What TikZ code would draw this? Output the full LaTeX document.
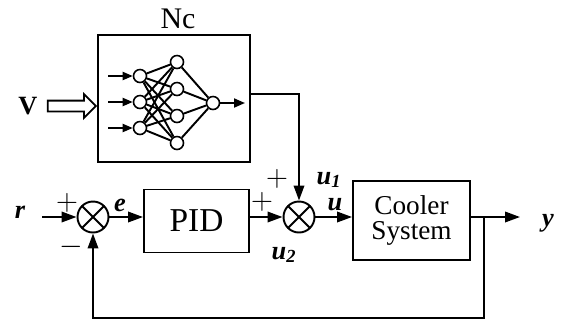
\documentclass[tikz,border=0pt]{standalone}
\usepackage{fontspec}
\setmainfont{Liberation Serif}
\usetikzlibrary{calc,arrows.meta,shapes.arrows}

\tikzset{
  bloque/.style={draw,line width=1.1pt,inner sep=0pt},
  suma/.style={circle,draw,minimum size=6.2mm,inner sep=0pt,
    path picture={\draw (path picture bounding box.north west)--(path picture bounding box.south east)
      (path picture bounding box.south west)--(path picture bounding box.north east);}},
  neurona/.style={circle,draw,fill=white,minimum size=2.6mm,inner sep=0pt,line width=0.9pt},
  senal/.style={font=\fontsize{15}{15}\selectfont\itshape\bfseries,inner sep=1pt},
  signo/.style={font=\fontsize{16}{16}\selectfont},
  hueca/.style={single arrow,draw,line width=1pt,inner sep=0.9mm,minimum height=0.96cm,
    single arrow head extend=1.3mm,single arrow head indent=0pt}
}

\begin{document}
\begin{tikzpicture}[line width=1.1pt,>={Triangle[length=3mm,width=2.1mm]}]
  \useasboundingbox (0,0) rectangle (11.26,-6.4);
  % red neuronal
  \node[bloque,minimum width=3.04cm,minimum height=2.54cm] (nc) at (3.48,-1.97) {};
  \node[font=\fontsize{17}{17}\selectfont] (nclab) at (3.56,-0.38) {Nc};
  \foreach \i/\y in {1/-1.52,2/-2.04,3/-2.56}{
    \node[neurona] (x\i) at (2.8,\y) {};
    \coordinate (in\i) at (2.16,\y);
    \draw[-{Triangle[length=2mm,width=1.6mm]}] (in\i) -- (x\i);
  }
  \foreach \j/\y in {1/-1.24,2/-1.78,3/-2.32,4/-2.86}
    \node[neurona] (h\j) at (3.54,\y) {};
  \node[neurona] (o) at (4.26,-2.06) {};
  \foreach \i in {1,2,3}
    \foreach \j in {1,...,4}
      \draw (x\i) -- (h\j);
  \foreach \j in {1,...,4}
    \draw (h\j) -- (o);
  \coordinate (nnout) at (4.9,-2.06);
  \draw[-{Triangle[length=2.2mm,width=1.8mm]}] (o) -- (nnout);
  % entrada V
  \node[font=\fontsize{15}{15}\selectfont\bfseries] (v) at (0.56,-2.12) {V};
  \node[hueca,anchor=tip] (varrow) at (v -| nc.west) {};
  % lazo PID
  \node[senal] (r) at (0.4,-4.24) {r};
  \coordinate (rin) at (0.84,-4.34);
  \node[suma] (sum1) at (1.86,-4.34) {};
  \node[bloque,minimum width=2.1cm,minimum height=1.26cm,font=\fontsize{19}{19}\selectfont] (pid) at (3.93,-4.42) {PID};
  \node[suma] (sum2) at (5.98,-4.34) {};
  \node[bloque,minimum width=2.34cm,minimum height=1.58cm,align=center,font=\fontsize{15.5}{14.5}\selectfont] (cooler) at (8.23,-4.41) {Cooler\\System};
  \coordinate (yout) at (10.4,-4.34);
  \coordinate (fb) at (9.68,-4.34);
  \coordinate (fbb) at (9.68,-6.36);
  \draw[->] (rin) -- (sum1);
  \draw[->] (sum1) -- (sum1 -| pid.west);
  \draw[->] (pid.east |- sum2) -- (sum2);
  \draw[->] (sum2) -- (sum2 -| cooler.west);
  \draw[->] (cooler.east |- sum2) -- (yout);
  \draw[->] (fb) -- (fbb) -| (sum1);
  \draw[->] ([yshift=0.09cm]nc.east) -| (sum2);
  % etiquetas
  \node[senal] (ylab) at (10.96,-4.46) {y};
  \node[senal] (elab) at (2.4,-4.1) {e};
  \node[senal] (ulab) at (6.7,-4.1) {u};
  \node[senal] (u1lab) at (6.58,-3.6) {u\textsubscript{1}};
  \node[senal] (u2lab) at (5.68,-5.1) {u\textsubscript{2}};
  \node[signo] (p1) at (1.34,-4.06) {$+$};
  \node[signo] (m1) at (1.42,-4.94) {$-$};
  \node[signo] (p2) at (5.24,-4.04) {$+$};
  \node[signo] (p3) at (5.54,-3.58) {$+$};
\end{tikzpicture}
\end{document}
